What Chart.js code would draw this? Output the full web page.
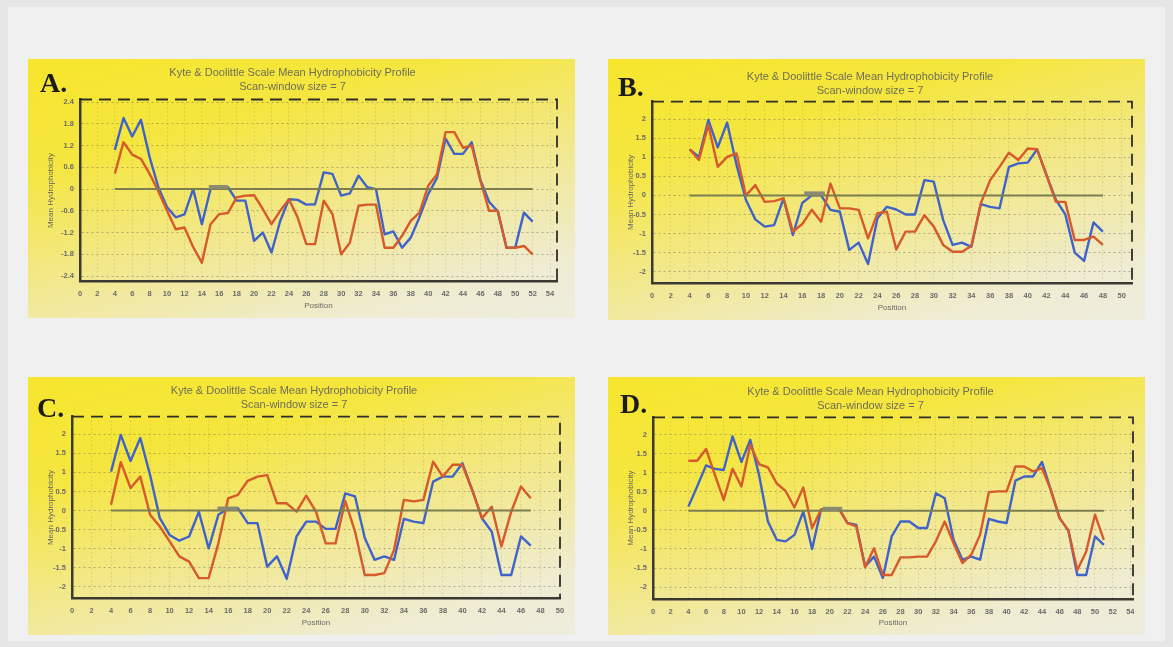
<!DOCTYPE html>
<html>
<head>
<meta charset="utf-8">
<script src="https://cdn.jsdelivr.net/npm/chart.js@4.4.1/dist/chart.umd.min.js"></script>
<style>
  html, body { margin: 0; padding: 0; }
  body { width: 1173px; height: 647px; background: #e6e6e6; position: relative; overflow: hidden; }
  #sheet { position: absolute; left: 8px; top: 7px; width: 1157px; height: 634px; background: #f0f0f0; }
  .panel { position: absolute; background: linear-gradient(165deg, #f7e62c 0%, #f5e640 28%, #f2e890 58%, #efecd2 85%, #eeedde 100%); }
  .panel canvas { position: absolute; left: 0; top: 0; }
</style>
</head>
<body>
<div id="sheet"></div>
<div class="panel" style="left:28px;top:59px;width:547px;height:259px"><canvas id="chartA" width="547" height="259"></canvas></div>
<div class="panel" style="left:608px;top:59px;width:537px;height:261px"><canvas id="chartB" width="537" height="261"></canvas></div>
<div class="panel" style="left:28px;top:377px;width:547px;height:258px"><canvas id="chartC" width="547" height="258"></canvas></div>
<div class="panel" style="left:608px;top:377px;width:537px;height:258px"><canvas id="chartD" width="537" height="258"></canvas></div>
<script>
// window centre positions, first to last
function span(a, b) { const out = []; for (let i = a; i <= b; i++) out.push(i); return out; }

const posA = span(4, 52);
const posB = span(4, 48);
const posC = span(4, 47);
const posD = span(4, 51);

const redA = [0.43, 1.29, 0.95, 0.83, 0.42, -0.06, -0.6, -1.11, -1.06, -1.6, -2.03, -0.97, -0.69, -0.66, -0.23, -0.18, -0.17,
  -0.55, -0.97, -0.6, -0.28, -0.78, -1.52, -1.52, -0.32, -0.69, -1.8, -1.48, -0.46, -0.43, -0.43, -1.62, -1.62, -1.29,
  -0.88, -0.65, 0.09, 0.4, 1.57, 1.57, 1.14, 1.2, 0.23, -0.6, -0.6, -1.62, -1.62, -1.57, -1.8];
const blueA = [1.08, 1.96, 1.45, 1.91, 0.88, 0.05, -0.5, -0.78, -0.7, 0.0, -0.97, 0.0, 0.05, 0.05, -0.32, -0.32, -1.43,
  -1.2, -1.75, -0.88, -0.28, -0.3, -0.43, -0.42, 0.46, 0.42, -0.18, -0.12, 0.37, 0.05, 0.0, -1.25, -1.17, -1.62, -1.34,
  -0.78, -0.14, 0.3, 1.39, 0.97, 0.97, 1.29, 0.25, -0.35, -0.62, -1.62, -1.62, -0.65, -0.9];

const redB = [1.21, 0.93, 1.85, 0.75, 1.01, 1.1, 0.0, 0.27, -0.17, -0.15, -0.08, -0.95, -0.75, -0.38, -0.69, 0.31, -0.34,
  -0.34, -0.38, -1.13, -0.47, -0.43, -1.42, -0.95, -0.95, -0.52, -0.82, -1.3, -1.48, -1.48, -1.33, -0.21, 0.4, 0.75,
  1.12, 0.93, 1.23, 1.21, 0.53, -0.17, -0.17, -1.17, -1.17, -1.08, -1.3];
const blueB = [1.21, 1.01, 1.98, 1.26, 1.91, 0.8, -0.12, -0.63, -0.82, -0.78, -0.08, -1.04, -0.2, 0.0, 0.0, -0.38, -0.43,
  -1.43, -1.24, -1.8, -0.6, -0.3, -0.37, -0.5, -0.5, 0.4, 0.36, -0.65, -1.3, -1.24, -1.35, -0.23, -0.3, -0.34, 0.75,
  0.84, 0.86, 1.21, 0.53, -0.12, -0.5, -1.5, -1.72, -0.71, -0.95];

const redC = [0.15, 1.27, 0.59, 0.89, -0.11, -0.42, -0.81, -1.2, -1.34, -1.77, -1.77, -0.86, 0.32, 0.41, 0.78, 0.89, 0.93,
  0.19, 0.19, -0.03, 0.39, -0.03, -0.86, -0.86, 0.25, -0.55, -1.69, -1.69, -1.64, -1.03, 0.28, 0.24, 0.28, 1.28, 0.89,
  1.2, 1.2, 0.54, -0.2, 0.1, -0.94, -0.03, 0.63, 0.32];
const blueC = [1.02, 1.98, 1.3, 1.9, 0.93, -0.2, -0.64, -0.79, -0.68, -0.03, -0.99, -0.11, 0.06, 0.06, -0.33, -0.33, -1.47,
  -1.2, -1.79, -0.68, -0.29, -0.29, -0.48, -0.48, 0.45, 0.37, -0.72, -1.29, -1.2, -1.29, -0.22, -0.29, -0.33, 0.76, 0.89,
  0.89, 1.24, 0.54, -0.2, -0.55, -1.69, -1.69, -0.68, -0.92];

const redD = [1.31, 1.31, 1.62, 0.94, 0.29, 1.1, 0.64, 1.73, 1.22, 1.14, 0.72, 0.52, 0.09, 0.61, -0.45, 0.03, 0.07, 0.07,
  -0.32, -0.41, -1.48, -0.98, -1.68, -1.68, -1.22, -1.22, -1.2, -1.2, -0.8, -0.28, -0.85, -1.37, -1.15, -0.63, 0.49, 0.51,
  0.51, 1.16, 1.16, 1.03, 1.12, 0.55, -0.19, -0.52, -1.55, -1.07, -0.1, -0.76];
const blueD = [0.11, 0.64, 1.19, 1.1, 1.07, 1.95, 1.28, 1.86, 0.94, -0.28, -0.76, -0.8, -0.63, -0.02, -1.0, 0.03, 0.07, 0.07,
  -0.32, -0.37, -1.46, -1.2, -1.76, -0.67, -0.28, -0.28, -0.45, -0.45, 0.46, 0.33, -0.76, -1.28, -1.2, -1.28, -0.21, -0.28,
  -0.32, 0.79, 0.9, 0.9, 1.28, 0.55, -0.19, -0.52, -1.68, -1.68, -0.67, -0.89];

// short thick grey mark sitting on the zero line
const bumpA = [14.8, 17.0];
const bumpB = [16.2, 18.4];
const bumpC = [14.9, 17.0];
const bumpD = [19.2, 21.4];

const xTicks54 = [0, 2, 4, 6, 8, 10, 12, 14, 16, 18, 20, 22, 24, 26, 28, 30, 32, 34, 36, 38, 40, 42, 44, 46, 48, 50, 52, 54];
const xTicks50 = [0, 2, 4, 6, 8, 10, 12, 14, 16, 18, 20, 22, 24, 26, 28, 30, 32, 34, 36, 38, 40, 42, 44, 46, 48, 50];
const yTicksA = [-2.4, -1.8, -1.2, -0.6, 0, 0.6, 1.2, 1.8, 2.4];
const yTicks2 = [-2, -1.5, -1, -0.5, 0, 0.5, 1, 1.5, 2];

const TITLE = ["Kyte & Doolittle Scale Mean Hydrophobicity Profile", "Scan-window size = 7"];
const RED = "#d65a2b";
const BLUE = "#3f63c9";

Chart.defaults.font.family = '"Liberation Sans", Arial, sans-serif';
Chart.defaults.animation = false;

const panelDecor = {
  id: "panelDecor",
  beforeDatasetsDraw(chart) {
    const { ctx, chartArea: a } = chart;
    ctx.save();
    ctx.strokeStyle = "#2f2f2a";
    ctx.lineWidth = 1.8;
    ctx.setLineDash([12, 7]);
    ctx.beginPath();
    ctx.moveTo(a.left, a.top);
    ctx.lineTo(a.right, a.top);
    ctx.lineTo(a.right, a.bottom);
    ctx.stroke();
    ctx.restore();
  },
  afterDatasetsDraw(chart, args, o) {
    const { ctx, scales: { x, y } } = chart;
    const y0 = y.getPixelForValue(0);
    ctx.save();
    ctx.strokeStyle = "#7c7e52";
    ctx.lineWidth = 2;
    ctx.beginPath();
    ctx.moveTo(x.getPixelForValue(o.from), y0);
    ctx.lineTo(x.getPixelForValue(o.to), y0);
    ctx.stroke();
    ctx.strokeStyle = "#8a8a70";
    ctx.lineWidth = 4;
    ctx.beginPath();
    ctx.moveTo(x.getPixelForValue(o.bump[0]), y0 - 2);
    ctx.lineTo(x.getPixelForValue(o.bump[1]), y0 - 2);
    ctx.stroke();
    ctx.restore();
  },
  afterDraw(chart, args, o) {
    const ctx = chart.ctx;
    ctx.save();
    ctx.fillStyle = "#1c1c1c";
    ctx.font = 'bold 28px "Liberation Serif", "DejaVu Serif", serif';
    ctx.textBaseline = "alphabetic";
    ctx.fillText(o.letter, o.lx, o.ly);
    ctx.restore();
  }
};

function build(id, p) {
  return new Chart(document.getElementById(id), {
    type: "line",
    data: {
      labels: p.pos,
      datasets: [
        { label: "red", data: p.red, borderColor: RED, borderWidth: 2.4, pointRadius: 0, tension: 0, borderJoinStyle: "round" },
        { label: "blue", data: p.blue, borderColor: BLUE, borderWidth: 2.4, pointRadius: 0, tension: 0, borderJoinStyle: "round" }
      ]
    },
    options: {
      responsive: false,
      events: [],
      layout: { padding: { left: 0, right: p.padR, top: 0, bottom: 0 } },
      plugins: {
        legend: { display: false },
        tooltip: { enabled: false },
        title: {
          display: true, text: TITLE, color: "#6e6e58",
          font: { size: 11, weight: "normal", lineHeight: 1.3 },
          padding: { top: p.tTop, bottom: p.tBot }
        },
        panelDecor: { letter: p.letter, lx: p.lx, ly: p.ly, from: p.pos[0], to: p.pos[p.pos.length - 1], bump: p.bump }
      },
      scales: {
        x: {
          type: "linear", min: 0, max: p.xMax,
          afterBuildTicks: s => { s.ticks = p.xTicks.map(v => ({ value: v })); },
          afterFit: s => { s.height = p.xH; },
          ticks: { font: { size: 7.5, weight: "bold" }, color: "#6a6a6a", padding: 8, maxRotation: 0, autoSkip: false },
          grid: { color: "rgba(100,100,90,0.3)", drawTicks: false },
          border: { color: "#3a3a32", width: 2.5, dash: [1, 3] },
          title: { display: true, text: "Position", color: "#6a6a6a", font: { size: 8 }, padding: { top: 0, bottom: 7 } }
        },
        y: {
          min: p.yMin, max: p.yMax,
          afterBuildTicks: s => { s.ticks = p.yTicks.map(v => ({ value: v })); },
          afterFit: s => { s.width = p.yW; },
          ticks: {
            font: { size: 7.5, weight: "bold" }, color: "#6a6a6a", padding: 6,
            callback: v => String(Math.round(v * 10) / 10)
          },
          grid: { color: "rgba(100,100,90,0.45)", drawTicks: false },
          border: { color: "#3a3a32", width: 2.5, dash: [2, 3] },
          title: { display: true, text: "Mean Hydrophobicity", color: "#666", font: { size: 8 }, padding: { top: 18, bottom: 0 } }
        }
      }
    },
    plugins: [panelDecor]
  });
}

build("chartA", { pos: posA, red: redA, blue: blueA, bump: bumpA, letter: "A.", lx: 12, ly: 33,
  xMax: 54.8, xTicks: xTicks54, yMin: -2.55, yMax: 2.47, yTicks: yTicksA,
  yW: 52, xH: 36.5, padR: 18, tTop: 6.8, tBot: 5.1 });
build("chartB", { pos: posB, red: redB, blue: blueB, bump: bumpB, letter: "B.", lx: 10, ly: 37,
  xMax: 51.1, xTicks: xTicks50, yMin: -2.3, yMax: 2.46, yTicks: yTicks2,
  yW: 44, xH: 37, padR: 13, tTop: 10.5, tBot: 3.6 });
build("chartC", { pos: posC, red: redC, blue: blueC, bump: bumpC, letter: "C.", lx: 9, ly: 40,
  xMax: 50, xTicks: xTicks50, yMin: -2.3, yMax: 2.46, yTicks: yTicks2,
  yW: 44, xH: 36.7, padR: 15, tTop: 6.8, tBot: 4.3 });
build("chartD", { pos: posD, red: redD, blue: blueD, bump: bumpD, letter: "D.", lx: 12, ly: 36,
  xMax: 54.3, xTicks: xTicks54, yMin: -2.31, yMax: 2.45, yTicks: yTicks2,
  yW: 45, xH: 36, padR: 12, tTop: 7.5, tBot: 4.2 });
</script>
</body>
</html>
